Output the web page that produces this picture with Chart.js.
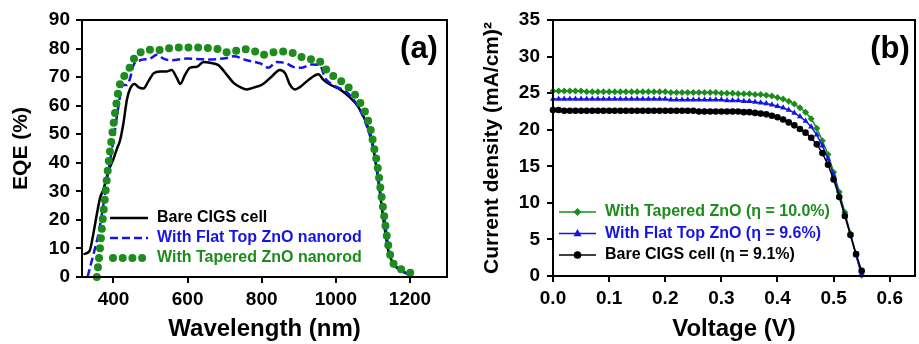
<!DOCTYPE html>
<html>
<head>
<meta charset="utf-8">
<script src="https://cdn.jsdelivr.net/npm/chart.js@4.4.0/dist/chart.umd.min.js"></script>
<style>
  html, body { margin: 0; padding: 0; background: #fff; }
  #wrap { position: relative; width: 919px; height: 344px; }
  #eqeBox { position: absolute; left: 0; top: 0; width: 460px; height: 344px; }
  #jvBox { position: absolute; left: 460px; top: 0; width: 459px; height: 344px; }
</style>
</head>
<body>
<div id="wrap">
  <div id="eqeBox"><canvas id="eqeChart" width="460" height="344"></canvas></div>
  <div id="jvBox"><canvas id="jvChart" width="459" height="344"></canvas></div>
</div>
<script>
// (a) EQE spectra
const bareWl = [319, 335, 346, 355, 364, 373, 386, 400, 409, 418, 427, 436, 445, 457, 467, 481, 494, 508, 526, 544,
  557, 571, 580, 593, 607, 625, 643, 661, 683, 706, 724, 742, 760, 778, 804, 827, 849, 863, 876, 890,
  903, 926, 953, 966, 984, 1011, 1038, 1061, 1083, 1097, 1106, 1115, 1124, 1133, 1142, 1155, 1173, 1200];
const bareEqe = [8, 9, 15.4, 22, 27.8, 30.7, 37, 41.4, 44.8, 48, 54, 62, 66, 67.6, 66.5, 66, 68.5, 71.3, 72, 72,
  72.5, 69.7, 67.6, 70.8, 73.3, 73.6, 75.3, 75, 74.2, 70.8, 68, 66.5, 65.7, 66.3, 67.6, 70.2, 72.5, 71.4, 67.4, 65.7,
  66.5, 69, 71, 69.1, 67.4, 65.7, 62.9, 59.5, 53.8, 48.2, 41.4, 33.5, 24.5, 16, 8.9, 4.8, 2.4, 0.8];

const flatWl = [330, 346, 360, 373, 386, 400, 413, 425, 436, 445, 454, 472, 499, 517, 535, 553, 598, 652, 706, 724,
  760, 796, 818, 840, 867, 885, 908, 935, 957, 971, 993, 1030, 1056, 1079, 1097, 1110, 1121, 1133, 1142, 1155, 1173, 1196];
const flatEqe = [0, 8, 15.4, 25.6, 37, 48, 59.5, 67.2, 67.2, 69.7, 74.2, 75.9, 76.5, 77.8, 76.5, 75.9, 76.5, 76.2, 76.7, 77.3,
  75.9, 74.8, 73.3, 75.3, 74.8, 73.6, 73.3, 74.4, 74.2, 69.7, 67.2, 64.6, 60.6, 54.4, 47.1, 38.1, 29, 18.8, 10.3, 4.8, 2.9, 0.8];

const taperWl = [355, 362, 369, 378, 386, 396, 404, 416, 431, 445, 458, 476, 503, 530, 553, 598, 652, 683, 706, 733,
  755, 782, 804, 831, 858, 885, 908, 935, 957, 975, 998, 1020, 1047, 1065, 1079, 1088, 1094, 1103, 1112, 1119,
  1126, 1133, 1139, 1146, 1155, 1182, 1206];
const taperEqe = [0, 8, 17.7, 29, 39.2, 49.4, 57.3, 66.8, 70.8, 73.6, 77, 78.9, 79.6, 79.5, 80.2, 80.4, 80.2, 79.8, 78.7, 79.3,
  79.8, 79, 77.8, 78.7, 79, 78.4, 77, 76.2, 75.5, 72.5, 69.9, 68, 64.6, 61.2, 57.8, 54.4, 51.6, 45.4, 39.2, 32.4,
  25.6, 18.8, 13.1, 8.1, 4.8, 2.4, 1.3];

const wlTicks = [400, 600, 800, 1000, 1200];

// (b) J-V curves
const voltage = [0, 0.01, 0.02, 0.03, 0.04, 0.05, 0.06, 0.07, 0.08, 0.09, 0.10, 0.11, 0.12, 0.13, 0.14, 0.15, 0.16, 0.17, 0.18, 0.19,
  0.20, 0.21, 0.22, 0.23, 0.24, 0.25, 0.26, 0.27, 0.28, 0.29, 0.30, 0.31, 0.32, 0.33, 0.34, 0.35, 0.36, 0.37, 0.38, 0.39,
  0.40, 0.41, 0.42, 0.43, 0.44, 0.45, 0.46, 0.47, 0.48, 0.49, 0.50, 0.51, 0.52, 0.53, 0.54, 0.55];
const jTapered = [25.3, 25.3, 25.3, 25.3, 25.3, 25.3, 25.2, 25.2, 25.2, 25.2, 25.2, 25.2, 25.2, 25.2, 25.2, 25.2, 25.2, 25.2, 25.2, 25.2,
  25.2, 25.1, 25.1, 25.1, 25.1, 25.1, 25.1, 25.1, 25.1, 25.1, 25.0, 25.0, 25.0, 24.9, 24.9, 24.9, 24.8, 24.8, 24.7, 24.6,
  24.4, 24.2, 23.9, 23.5, 23.0, 22.4, 21.5, 20.2, 18.5, 16.6, 14.2, 11.5, 8.7, 5.8, 2.9, 0.1];
const jFlat = [24.2, 24.2, 24.2, 24.2, 24.2, 24.2, 24.2, 24.2, 24.2, 24.2, 24.2, 24.2, 24.2, 24.2, 24.2, 24.2, 24.2, 24.2, 24.2, 24.2,
  24.2, 24.1, 24.1, 24.1, 24.1, 24.1, 24.1, 24.1, 24.1, 24.1, 24.1, 24.0, 24.0, 24.0, 23.9, 23.9, 23.8, 23.7, 23.6, 23.4,
  23.2, 23.0, 22.7, 22.3, 21.8, 21.2, 20.4, 19.3, 17.8, 16.0, 13.8, 11.1, 8.4, 5.6, 2.8, 0.1];
const jBare = [22.7, 22.7, 22.6, 22.6, 22.6, 22.6, 22.6, 22.6, 22.6, 22.6, 22.6, 22.6, 22.6, 22.6, 22.6, 22.6, 22.6, 22.6, 22.6, 22.6,
  22.6, 22.6, 22.6, 22.6, 22.6, 22.6, 22.5, 22.5, 22.5, 22.5, 22.5, 22.5, 22.5, 22.5, 22.4, 22.4, 22.3, 22.2, 22.1, 21.9,
  21.7, 21.4, 21.0, 20.6, 20.1, 19.6, 18.9, 18.0, 16.8, 15.2, 13.2, 10.8, 8.2, 5.6, 3.0, 0.7];

const vTicks = [0, 0.1, 0.2, 0.3, 0.4, 0.5, 0.6];

const FONT = "'Liberation Sans', Arial, sans-serif";
const GREEN = '#1c8c1c';
const BLUE = '#1414e6';
const BLACK = '#000000';

Chart.defaults.font.family = FONT;
Chart.defaults.color = '#000';

const xy = (xs, ys) => xs.map((x, i) => ({ x: x, y: ys[i] }));

function drawMarker(ctx, style, x, y, r, color) {
  ctx.save();
  ctx.fillStyle = color;
  ctx.setLineDash([]);
  ctx.beginPath();
  if (style === 'triangle') {
    ctx.moveTo(x, y - r * 1.1);
    ctx.lineTo(x + r, y + r * 0.7);
    ctx.lineTo(x - r, y + r * 0.7);
    ctx.closePath();
  } else if (style === 'rectRot') {
    ctx.moveTo(x, y - r);
    ctx.lineTo(x + r, y);
    ctx.lineTo(x, y + r);
    ctx.lineTo(x - r, y);
    ctx.closePath();
  } else {
    ctx.arc(x, y, r, 0, Math.PI * 2);
  }
  ctx.fill();
  ctx.restore();
}

// frame box, panel letter and in-plot legend
const panelDecor = {
  id: 'panelDecor',
  afterDatasetsDraw(chart, args, opts) {
    const ctx = chart.ctx;
    const a = chart.chartArea;
    ctx.save();
    ctx.strokeStyle = '#000';
    ctx.lineWidth = 2;
    ctx.setLineDash([]);
    ctx.strokeRect(a.left, a.top, a.right - a.left, a.bottom - a.top);

    ctx.font = 'bold 31px ' + FONT;
    ctx.fillStyle = '#000';
    ctx.textAlign = 'center';
    ctx.textBaseline = 'middle';
    ctx.fillText(opts.letter, opts.letterX, opts.letterY);

    ctx.font = 'bold 16px ' + FONT;
    ctx.textAlign = 'left';
    opts.rows.forEach((row, i) => {
      const ds = chart.data.datasets[row.i];
      const y = opts.top + i * opts.gap;
      ctx.save();
      ctx.strokeStyle = ds.borderColor;
      ctx.lineWidth = ds.borderWidth;
      ctx.lineCap = ds.borderCapStyle || 'butt';
      ctx.setLineDash(ds.borderDash || []);
      ctx.beginPath();
      ctx.moveTo(row.x1, y);
      ctx.lineTo(row.x2, y);
      ctx.stroke();
      ctx.restore();
      if (ds.pointRadius) {
        drawMarker(ctx, ds.pointStyle, (row.x1 + row.x2) / 2, y, ds.pointRadius + 0.5, ds.borderColor);
      }
      ctx.fillStyle = ds.borderColor;
      ctx.fillText(ds.label, opts.textX, y);
    });
    ctx.restore();
  }
};

const tickFont = { size: 19, weight: 'bold' };

new Chart(document.getElementById('eqeChart'), {
  type: 'line',
  data: {
    datasets: [
      {
        label: 'With Tapered ZnO nanorod',
        data: xy(taperWl, taperEqe),
        borderColor: GREEN,
        borderWidth: 8,
        borderDash: [0, 9.7],
        borderCapStyle: 'round',
        pointRadius: 0,
        cubicInterpolationMode: 'monotone',
        clip: 8
      },
      {
        label: 'With Flat Top ZnO nanorod',
        data: xy(flatWl, flatEqe),
        borderColor: BLUE,
        borderWidth: 2.5,
        borderDash: [8, 4],
        pointRadius: 0,
        cubicInterpolationMode: 'monotone',
        clip: 4
      },
      {
        label: 'Bare CIGS cell',
        data: xy(bareWl, bareEqe),
        borderColor: BLACK,
        borderWidth: 2.5,
        pointRadius: 0,
        cubicInterpolationMode: 'monotone',
        clip: 4
      }
    ]
  },
  options: {
    responsive: false,
    animation: false,
    devicePixelRatio: 1,
    layout: { padding: { left: 0, top: 20, right: 13, bottom: 0 } },
    plugins: {
      legend: { display: false },
      tooltip: { enabled: false },
      panelDecor: {
        letter: '(a)', letterX: 419, letterY: 49,
        top: 218, gap: 20, textX: 157,
        rows: [{ i: 2, x1: 110, x2: 148 }, { i: 1, x1: 110, x2: 148 }, { i: 0, x1: 113, x2: 143 }]
      }
    },
    scales: {
      x: {
        type: 'linear',
        min: 315,
        max: 1300,
        afterFit: s => { s.height = 67; },
        afterBuildTicks: s => { s.ticks = wlTicks.map(v => ({ value: v })); },
        ticks: { font: tickFont, padding: 5, maxRotation: 0, callback: v => String(v) },
        grid: { drawOnChartArea: false, tickLength: 6, color: '#000', lineWidth: 2 },
        border: { color: '#000', width: 2 },
        title: { display: true, text: 'Wavelength (nm)', font: { size: 24, weight: 'bold' }, padding: { top: 0, bottom: 0 } }
      },
      y: {
        min: 0,
        max: 90,
        afterFit: s => { s.width = 82; },
        ticks: { stepSize: 10, font: tickFont, padding: 6 },
        grid: { drawOnChartArea: false, tickLength: 6, color: '#000', lineWidth: 2 },
        border: { color: '#000', width: 2 },
        title: { display: true, text: 'EQE (%)', font: { size: 21, weight: 'bold' }, padding: { top: 9, bottom: 0 } }
      }
    }
  },
  plugins: [panelDecor]
});

new Chart(document.getElementById('jvChart'), {
  type: 'line',
  data: {
    datasets: [
      {
        label: 'Bare CIGS cell (\u03b7 = 9.1%)',
        data: xy(voltage, jBare),
        borderColor: BLACK,
        backgroundColor: BLACK,
        borderWidth: 1.5,
        pointStyle: 'circle',
        pointRadius: 3.3,
        pointBorderWidth: 0,
        clip: 6
      },
      {
        label: 'With Flat Top ZnO (\u03b7 = 9.6%)',
        data: xy(voltage, jFlat),
        borderColor: BLUE,
        backgroundColor: BLUE,
        borderWidth: 1.5,
        pointStyle: 'triangle',
        pointRadius: 3.5,
        pointBorderWidth: 0,
        clip: 6
      },
      {
        label: 'With Tapered ZnO (\u03b7 = 10.0%)',
        data: xy(voltage, jTapered),
        borderColor: GREEN,
        backgroundColor: GREEN,
        borderWidth: 1.5,
        pointStyle: 'rectRot',
        pointRadius: 3.5,
        pointBorderWidth: 0,
        clip: 6
      }
    ]
  },
  options: {
    responsive: false,
    animation: false,
    devicePixelRatio: 1,
    layout: { padding: { left: 0, top: 20, right: 4, bottom: 0 } },
    plugins: {
      legend: { display: false },
      tooltip: { enabled: false },
      panelDecor: {
        letter: '(b)', letterX: 430, letterY: 49,
        top: 212, gap: 21.5, textX: 145,
        rows: [{ i: 2, x1: 99, x2: 136 }, { i: 1, x1: 99, x2: 136 }, { i: 0, x1: 99, x2: 136 }]
      }
    },
    scales: {
      x: {
        type: 'linear',
        min: 0,
        max: 0.645,
        afterFit: s => { s.height = 68; },
        afterBuildTicks: s => { s.ticks = vTicks.map(v => ({ value: v })); },
        ticks: { font: tickFont, padding: 5, maxRotation: 0, callback: v => Number(v).toFixed(1) },
        grid: { drawOnChartArea: false, tickLength: 6, color: '#000', lineWidth: 2 },
        border: { color: '#000', width: 2 },
        title: { display: true, text: 'Voltage (V)', font: { size: 24, weight: 'bold' }, padding: { top: 0, bottom: 0 } }
      },
      y: {
        min: 0,
        max: 35,
        afterFit: s => { s.width = 93; },
        ticks: { stepSize: 5, font: tickFont, padding: 7 },
        grid: { drawOnChartArea: false, tickLength: 6, color: '#000', lineWidth: 2 },
        border: { color: '#000', width: 2 },
        title: { display: true, text: 'Current density (mA/cm)\u00b2', font: { size: 21, weight: 'bold' }, padding: { top: 20, bottom: 0 } }
      }
    }
  },
  plugins: [panelDecor]
});
</script>
</body>
</html>
